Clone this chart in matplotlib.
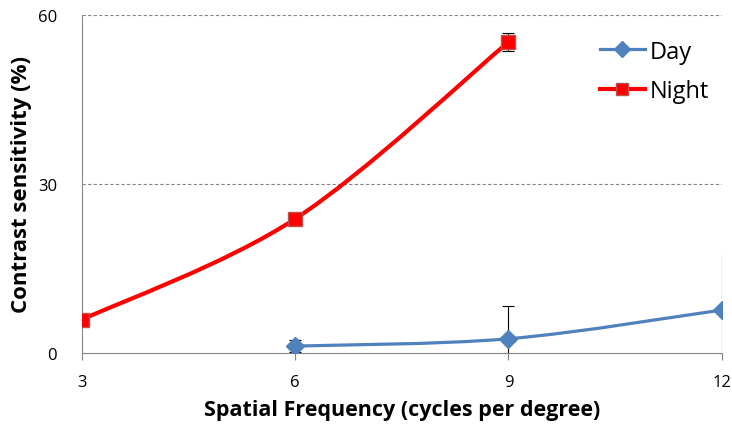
import numpy as np
import matplotlib.pyplot as plt
from matplotlib.path import Path
from matplotlib.patches import PathPatch

# Datos
freq_day = [6, 9, 12]
day = [1.2, 2.5, 7.6]
day_err = [1.1, 5.8, 10.0]

freq_night = [3, 6, 9]
night = [5.9, 23.8, 55.2]
night_err = [0, 0, 1.6]

x_ticks = [3, 6, 9, 12]
y_ticks = [0, 30, 60]

plt.rcParams['font.family'] = ['Open Sans', 'DejaVu Sans']


def smooth_path(x, y):
    # curva suavizada tipo Excel (Catmull-Rom -> Bezier)
    pts = np.column_stack([x, y]).astype(float)
    verts = [pts[0]]
    codes = [Path.MOVETO]
    n = len(pts)
    for i in range(n - 1):
        p0 = pts[i - 1] if i > 0 else pts[i]
        p1 = pts[i]
        p2 = pts[i + 1]
        p3 = pts[i + 2] if i + 2 < n else pts[i + 1]
        c1 = p1 + (p2 - p0) / 6
        c2 = p2 - (p3 - p1) / 6
        verts += [c1, c2, p2]
        codes += [Path.CURVE4] * 3
    return Path(verts, codes)


fig = plt.figure(figsize=(7.32, 4.31), dpi=100)
ax = fig.add_axes([0.112, 0.179, 0.874, 0.784])

blue = '#4F81BD'
red = '#FF0000'

ax.add_patch(PathPatch(smooth_path(freq_day, day), fill=False, edgecolor=blue, lw=2.3, zorder=3))
ax.add_patch(PathPatch(smooth_path(freq_night, night), fill=False, edgecolor=red, lw=3, zorder=3))

# barras de error
ax.errorbar(freq_day[:2], day[:2], yerr=day_err[:2], fmt='none', ecolor='black', elinewidth=0.8, capsize=4, capthick=0.8, zorder=2)
ax.errorbar(freq_day[2:], day[2:], yerr=day_err[2:], fmt='none', ecolor='black', elinewidth=0.8, capsize=0, zorder=2)
ax.errorbar(freq_night[2:], night[2:], yerr=night_err[2:], fmt='none', ecolor='black', elinewidth=0.8, capsize=4, capthick=0.8, zorder=2)

ax.plot(freq_day, day, linestyle='none', marker='D', ms=9, color=blue, mec=blue, zorder=4)
ax.plot(freq_night, night, linestyle='none', marker='s', ms=10, color=red, mec='#C0504D', mew=1, zorder=4)

# leyenda
ax.plot([], [], color=blue, lw=2.3, marker='D', ms=8, label='Day')
ax.plot([], [], color=red, lw=3, marker='s', ms=9, mec='#C0504D', label='Night')
ax.legend(loc='upper right', bbox_to_anchor=(1.013, 0.99), frameon=False, fontsize=17,
          handlelength=1.9, handletextpad=0.2, labelspacing=0.65)

ax.set_xlim(3, 12)
ax.set_ylim(0, 60)
ax.set_xticks(x_ticks)
ax.set_yticks(y_ticks)
ax.tick_params(axis='x', length=5, color='#868686', labelsize=12, pad=10)
ax.tick_params(axis='y', length=0, labelsize=12, pad=18)

for y in y_ticks[1:]:
    ax.axhline(y, color='#868686', lw=0.8, ls=(0, (3, 2)), zorder=1)

for s in ['top', 'right']:
    ax.spines[s].set_visible(False)
for s in ['left', 'bottom']:
    ax.spines[s].set_color('#868686')

ax.set_xlabel('Spatial Frequency (cycles per degree)', fontsize=15.5, fontweight='bold', labelpad=7)
ax.set_ylabel('Contrast sensitivity (%)', fontsize=16, fontweight='bold', labelpad=4)

fig.savefig('out.png', dpi=100)
